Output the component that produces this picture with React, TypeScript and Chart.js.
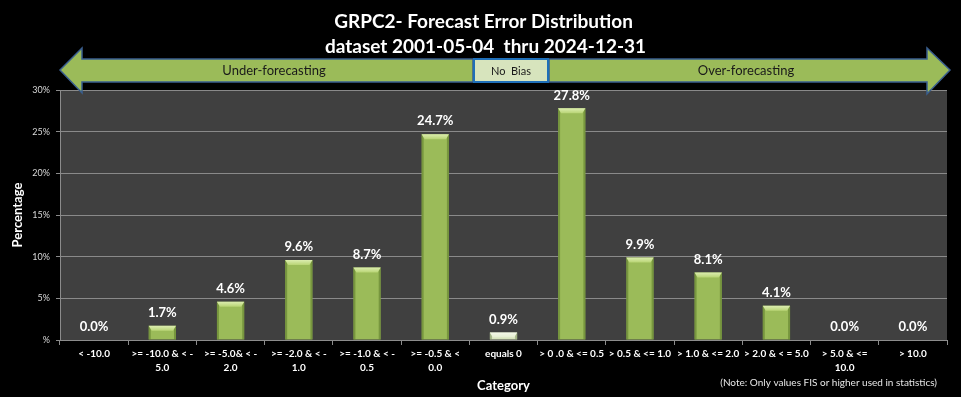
import React, { useEffect, useRef } from 'react';
import { Chart, registerables } from 'chart.js';

Chart.register(...registerables);

const categories: (string | string[])[] = [
  '< -10.0',
  ['>= -10.0 & < -', '5.0'],
  ['>= -5.0& < -', '2.0'],
  ['>= -2.0 & < -', '1.0'],
  ['>= -1.0 & < -', '0.5'],
  ['>= -0.5 & <', '0.0'],
  'equals 0',
  '> 0 .0 & <= 0.5',
  '> 0.5 & <= 1.0',
  '> 1.0 & <= 2.0',
  '> 2.0 & < = 5.0',
  ['> 5.0 & <=', '10.0'],
  '> 10.0',
];
const percentages = [0.0, 1.7, 4.6, 9.6, 8.7, 24.7, 0.9, 27.8, 9.9, 8.1, 4.1, 0.0, 0.0];
const yTickValues = [0, 5, 10, 15, 20, 25, 30];
const titleLines = ['GRPC2- Forecast Error Distribution', 'dataset 2001-05-04  thru 2024-12-31'];
const underLabel = 'Under-forecasting';
const noBiasLabel = 'No  Bias';
const overLabel = 'Over-forecasting';
const noteText = '(Note: Only values FIS or higher used in statistics)';
const yAxisTitle = 'Percentage';
const xAxisTitle = 'Category';
const zeroCategory = 'equals 0';

const FONT = 'Lato, "Open Sans", sans-serif';

const decorPlugin = {
  id: 'decor',
  beforeDraw(chart: any) {
    const { ctx, chartArea: a } = chart;
    ctx.save();
    ctx.fillStyle = '#000';
    ctx.fillRect(0, 0, chart.width, chart.height);
    ctx.fillStyle = '#404040';
    ctx.fillRect(a.left, a.top, a.right - a.left, a.bottom - a.top);
    ctx.restore();
  },
  afterDatasetsDraw(chart: any) {
    const { ctx } = chart;
    const meta = chart.getDatasetMeta(0);
    ctx.save();
    meta.data.forEach((bar: any, i: number) => {
      const v = percentages[i];
      const w = bar.width;
      const x0 = bar.x - w / 2;
      const x1 = bar.x + w / 2;
      const top = bar.y;
      const bottom = bar.base;
      const h = bottom - top;
      const isZero = categories[i] === zeroCategory;
      if (h > 1) {
        ctx.fillStyle = isZero ? 'rgba(120,140,90,0.55)' : 'rgba(90,120,40,0.55)';
        ctx.fillRect(x0, top, 2, h);
        ctx.fillRect(x1 - 2, top, 2, h);
        const bh = Math.min(5, h);
        ctx.beginPath();
        ctx.moveTo(x0, top);
        ctx.lineTo(x1, top);
        ctx.lineTo(x1 - 3, top + bh);
        ctx.lineTo(x0 + 3, top + bh);
        ctx.closePath();
        const g = ctx.createLinearGradient(0, top, 0, top + bh);
        g.addColorStop(0, isZero ? '#f4f8ea' : '#dcedb0');
        g.addColorStop(1, isZero ? '#e4eed0' : '#b8d474');
        ctx.fillStyle = g;
        ctx.fill();
      }
      ctx.fillStyle = '#ffffff';
      ctx.font = `bold 13px ${FONT}`;
      ctx.textAlign = 'center';
      ctx.textBaseline = 'middle';
      ctx.fillText(v.toFixed(1) + '%', bar.x, top - 13);
    });
    ctx.restore();
  },
  afterDraw(chart: any) {
    const { ctx, chartArea: a } = chart;
    ctx.save();
    ctx.fillStyle = '#ffffff';
    ctx.font = `bold 19px ${FONT}`;
    ctx.textAlign = 'center';
    ctx.textBaseline = 'middle';
    const cx = chart.width / 2 + 3;
    ctx.fillText(titleLines[0], cx, 22);
    ctx.fillText(titleLines[1], cx + 2, 47);

    const L = a.left;
    const R = a.right + 3;
    const mid = 70;
    const bodyT = 59;
    const bodyB = 82;
    const headT = 48;
    const headB = 93;
    const boxL = 474;
    const boxR = 548;
    ctx.lineWidth = 1.5;
    ctx.strokeStyle = '#3a5f8f';
    ctx.fillStyle = '#9BBB59';
    ctx.beginPath();
    ctx.moveTo(L, mid);
    ctx.lineTo(L + 22, headT);
    ctx.lineTo(L + 22, bodyT);
    ctx.lineTo(boxL - 1, bodyT);
    ctx.lineTo(boxL - 1, bodyB);
    ctx.lineTo(L + 22, bodyB);
    ctx.lineTo(L + 22, headB);
    ctx.closePath();
    ctx.fill();
    ctx.stroke();

    ctx.beginPath();
    ctx.moveTo(boxR + 1, bodyT);
    ctx.lineTo(R - 23, bodyT);
    ctx.lineTo(R - 23, headT);
    ctx.lineTo(R, mid);
    ctx.lineTo(R - 23, headB + 1);
    ctx.lineTo(R - 23, bodyB);
    ctx.lineTo(boxR + 1, bodyB);
    ctx.closePath();
    ctx.fill();
    ctx.stroke();

    ctx.fillStyle = '#D7E4BD';
    ctx.fillRect(boxL, bodyT, boxR - boxL, bodyB - bodyT);
    ctx.lineWidth = 2;
    ctx.strokeStyle = '#1f6fb8';
    ctx.strokeRect(boxL, bodyT, boxR - boxL, bodyB - bodyT);

    ctx.fillStyle = '#1a1a1a';
    ctx.font = `13px ${FONT}`;
    ctx.fillText(underLabel, (L + boxL) / 2 + 7, mid + 1);
    ctx.fillText(overLabel, (boxR + R) / 2 - 3, mid + 1);
    ctx.font = `11px ${FONT}`;
    ctx.fillText(noBiasLabel, (boxL + boxR) / 2, mid + 1);

    ctx.fillStyle = '#e6e6e6';
    ctx.font = `10px ${FONT}`;
    ctx.textAlign = 'right';
    ctx.fillText(noteText, a.right - 10, 383);
    ctx.restore();
  },
};

export default function App() {
  const ref = useRef<HTMLCanvasElement | null>(null);
  useEffect(() => {
    document.body.style.margin = '0';
    document.body.style.background = '#000';
    const canvas = ref.current!;
    const chart = new Chart(canvas, {
      type: 'bar',
      data: {
        labels: categories,
        datasets: [
          {
            data: percentages,
            backgroundColor: categories.map((c) => (c === zeroCategory ? '#D7E4BD' : '#9BBB59')),
            borderWidth: 0,
            barPercentage: 0.8,
            categoryPercentage: 0.5,
          },
        ],
      },
      plugins: [decorPlugin],
      options: {
        responsive: false,
        animation: false,
        devicePixelRatio: 1,
        layout: { padding: { top: 90, right: 14, bottom: 0, left: 0 } },
        plugins: {
          legend: { display: false },
          tooltip: { enabled: false },
          title: { display: false },
        },
        scales: {
          x: {
            grid: {
              display: true,
              drawOnChartArea: false,
              drawTicks: true,
              tickLength: 5,
              color: '#8c8c8c',
              offset: true,
            },
            border: { color: '#8c8c8c', width: 1 },
            ticks: {
              color: '#ffffff',
              font: { family: FONT, size: 10, weight: 'bold', lineHeight: 1.4 },
              maxRotation: 0,
              minRotation: 0,
              autoSkip: false,
              padding: 2,
            },
            title: {
              display: true,
              text: xAxisTitle,
              color: '#ffffff',
              font: { family: FONT, size: 13, weight: 'bold' },
              padding: { top: 0, bottom: 3 },
            },
            afterFit(scale: any) {
              scale.height = 57;
            },
          },
          y: {
            min: 0,
            max: 30,
            afterBuildTicks(scale: any) {
              scale.ticks = yTickValues.map((v) => ({ value: v }));
            },
            grid: {
              color: '#8a8a8a',
              lineWidth: 1,
              tickLength: 4,
            },
            border: { color: '#8c8c8c', width: 1 },
            ticks: {
              color: '#d9d9d9',
              font: { family: FONT, size: 9 },
              padding: 6,
              callback: (v: any) => (v === 0 ? '%' : v + '%'),
            },
            title: {
              display: true,
              text: yAxisTitle,
              color: '#ffffff',
              font: { family: FONT, size: 13, weight: 'bold' },
              padding: { top: 10, bottom: 0 },
            },
            afterFit(scale: any) {
              scale.width = 60;
            },
          },
        },
      },
    });
    return () => chart.destroy();
  }, []);
  return (
    <div style={{ width: 961, height: 397, background: '#000' }}>
      <canvas ref={ref} width={961} height={397} />
    </div>
  );
}
